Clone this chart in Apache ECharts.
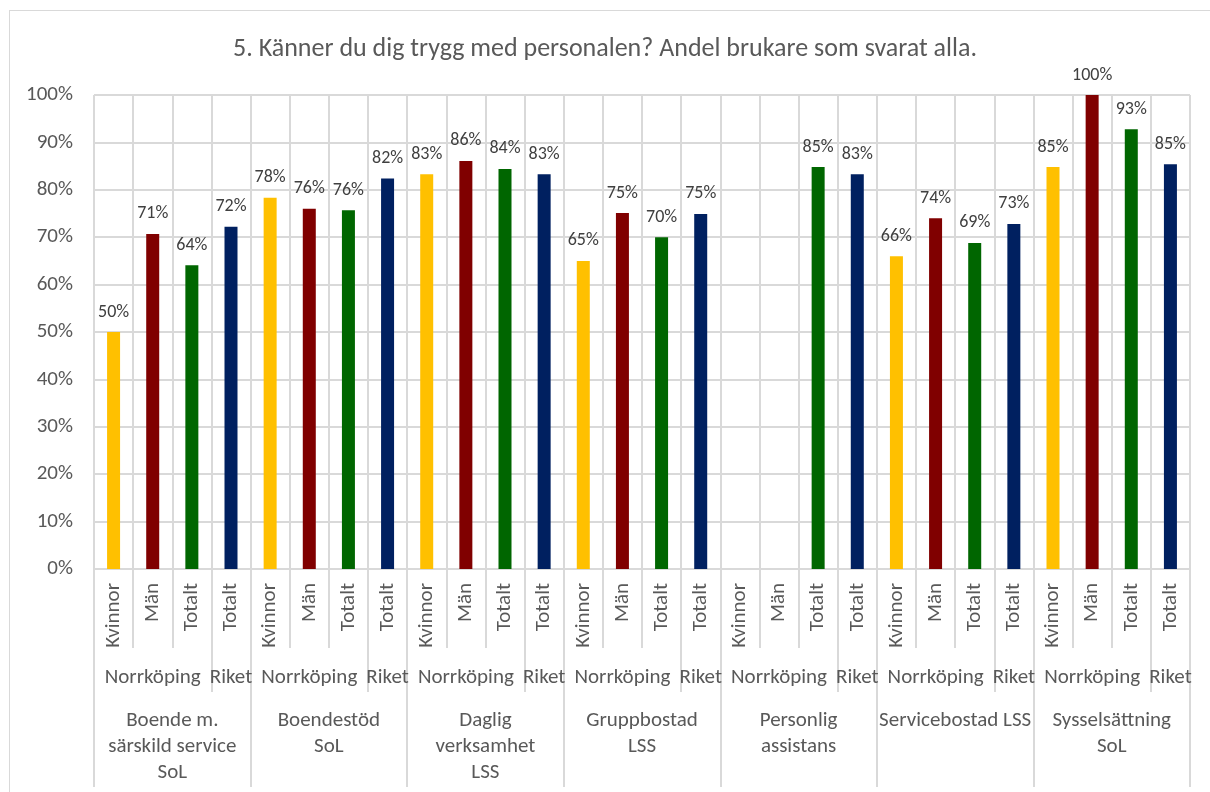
<!DOCTYPE html>
<html>
<head>
<meta charset="utf-8">
<script src="https://cdn.jsdelivr.net/npm/echarts@6/dist/echarts.min.js"></script>
<style>
  html, body { margin: 0; padding: 0; background: #fff; }
  #frame { position: absolute; left: 9px; top: 10px; width: 1220px; height: 800px; border: 1px solid #d9d9d9; }
  #chart { position: absolute; left: 0; top: 0; width: 1210px; height: 792px; }
</style>
</head>
<body>
<div id="frame"></div>
<div id="chart"></div>
<script>
const titleText = '5. Känner du dig trygg med personalen? Andel brukare som svarat alla.';

const groups = [
  'Boende m.\nsärskild service\nSoL',
  'Boendestöd\nSoL',
  'Daglig\nverksamhet\nLSS',
  'Gruppbostad\nLSS',
  'Personlig\nassistans',
  'Servicebostad LSS',
  'Sysselsättning\nSoL'
];
const subCats = ['Kvinnor', 'Män', 'Totalt', 'Totalt'];
const areas = ['Norrköping', 'Riket'];
const yTicks = ['0%', '10%', '20%', '30%', '40%', '50%', '60%', '70%', '80%', '90%', '100%'];

// per group: Norrköping Kvinnor, Män, Totalt, Riket Totalt
const kvinnor = [50.0, 78.3, 83.3, 65.0, null, 66.0, 84.8];
const man     = [70.7, 76.0, 86.1, 75.1, null, 74.0, 100];
const totalt  = [64.1, 75.7, 84.4, 70.0, 84.8, 68.8, 92.8];
const riket   = [72.2, 82.4, 83.3, 74.9, 83.3, 72.8, 85.4];

const colors = ['#FFC000', '#800000', '#006600', '#002060'];

const cats = [];
const barData = [];
groups.forEach((g, i) => {
  [kvinnor[i], man[i], totalt[i], riket[i]].forEach((v, j) => {
    cats.push(subCats[j]);
    barData.push({ value: v, itemStyle: { color: colors[j] } });
  });
});

const n = cats.length;
// tick/label positions for the lower levels (in category units)
const areaTicks = [], areaLabels = [], groupTicks = [], groupLabels = [];
for (let i = 0; i <= groups.length; i++) {
  groupTicks.push(i * 4);
  areaTicks.push(i * 4);
  if (i < groups.length) {
    areaTicks.push(i * 4 + 3);
    areaLabels.push(i * 4 + 1.5, i * 4 + 3.5);
    groupLabels.push(i * 4 + 2);
  }
}

const font = 'Carlito, Lato, sans-serif';
const gridColor = '#d9d9d9';
const textColor = '#595959';

const chart = echarts.init(document.getElementById('chart'));
chart.setOption({
  animation: false,
  textStyle: { fontFamily: font },
  title: {
    text: titleText,
    left: 'center',
    top: 31,
    textStyle: { fontFamily: font, fontSize: 26, fontWeight: 'normal', color: textColor }
  },
  grid: { left: 94, right: 20, top: 95, bottom: 223 },
  xAxis: [
    {
      type: 'category',
      data: cats,
      axisLine: { show: true, lineStyle: { color: gridColor, width: 2 } },
      axisTick: { show: true, interval: 0, length: 79, lineStyle: { color: gridColor, width: 2 } },
      axisLabel: { interval: 0, rotate: 90, margin: 14, fontSize: 21, color: textColor, fontFamily: font },
      splitLine: { show: true, interval: 0, lineStyle: { color: gridColor, width: 2 } }
    },
    {
      type: 'value',
      min: 0, max: n,
      position: 'bottom',
      axisLine: { show: false },
      splitLine: { show: false },
      axisTick: { show: true, customValues: areaTicks, length: 123, lineStyle: { color: gridColor, width: 2 } },
      axisLabel: {
        customValues: areaLabels,
        margin: 98,
        fontSize: 21,
        color: textColor,
        fontFamily: font,
        formatter: v => areas[(v % 4) > 2 ? 1 : 0]
      }
    },
    {
      type: 'value',
      min: 0, max: n,
      position: 'bottom',
      axisLine: { show: false },
      splitLine: { show: false },
      axisTick: { show: true, customValues: groupTicks, length: 218, lineStyle: { color: gridColor, width: 2 } },
      axisLabel: {
        customValues: groupLabels,
        margin: 139,
        fontSize: 21,
        lineHeight: 26,
        align: 'center',
        color: textColor,
        fontFamily: font,
        formatter: v => groups[Math.round((v - 2) / 4)]
      }
    }
  ],
  yAxis: {
    type: 'value',
    min: 0, max: 100, interval: 10,
    axisLine: { show: false },
    axisTick: { show: false },
    axisLabel: { margin: 21, fontSize: 21, color: textColor, fontFamily: font, formatter: v => yTicks[Math.round(v / 10)] },
    splitLine: { lineStyle: { color: gridColor, width: 2 } }
  },
  series: [{
    type: 'bar',
    xAxisIndex: 0,
    barWidth: 13,
    data: barData,
    label: {
      show: true,
      position: 'top',
      distance: 11,
      fontSize: 18,
      color: '#404040',
      fontFamily: font,
      formatter: p => p.value == null ? '' : Math.round(p.value) + '%'
    }
  }]
});
</script>
</body>
</html>
